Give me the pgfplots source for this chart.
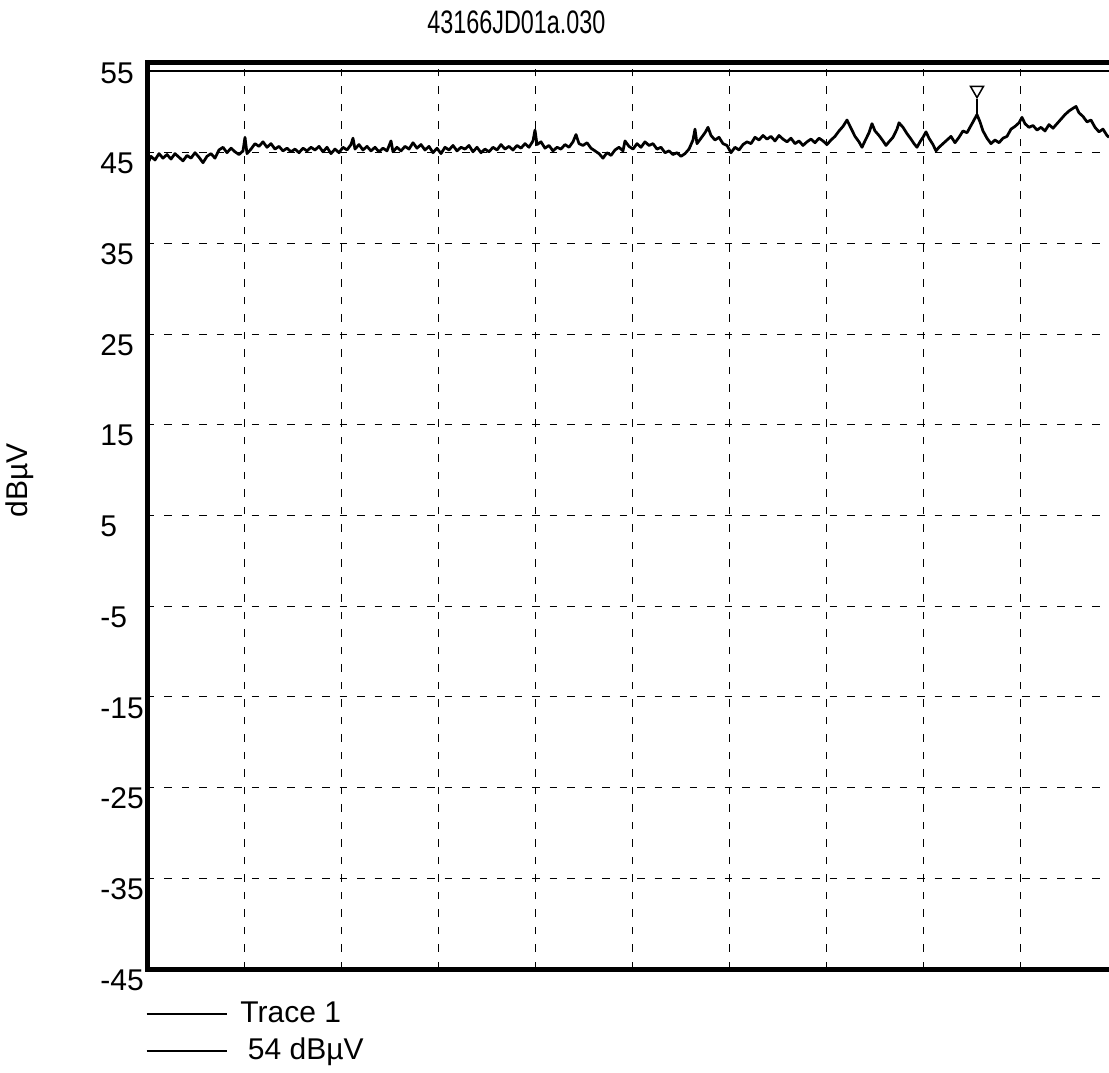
\documentclass[border=0pt]{standalone}
\usepackage{fontspec}
\setmainfont{Liberation Sans}
\usepackage{graphicx}
\usepackage{pgfplots}
\pgfplotsset{compat=1.18}

\begin{document}
\begin{tikzpicture}
\fill[white] (-58.8pt,-41.2pt) rectangle (384.8pt,387.6pt);
\begin{axis}[
  name=ax,
  at={(0pt,0pt)}, anchor=south west,
  scale only axis, width=384.8pt, height=362.8pt,
  xmin=147, xmax=1109, ymin=-45, ymax=55,
  axis line style={draw=none},
  xtick={245,342,439,536,633,730,826,923,1020},
  xticklabels={},
  ytick={-45,-35,-25,-15,-5,5,15,25,35,45,55},
  yticklabels={-45,-35,-25,-15,-5,5,15,25,35,45,55},
  major tick length=0pt,
  grid=major,
  major grid style={black, line width=0.4pt, dash pattern=on 3pt off 4pt},
  yticklabel style={anchor=west, inner sep=0pt, xshift=-18.8pt, yshift=-4.4pt, font=\fontsize{12}{14}\selectfont},
  title={\scalebox{0.72}[1]{43166JD01a.030}},
  title style={at={(axis description cs:0.384,1.027)}, anchor=center, font=\fontsize{13}{15}\selectfont},
  ylabel={dBµV},
  ylabel style={at={(axis description cs:-0.132,0.539)}, anchor=center, font=\fontsize{12}{14}\selectfont},
  legend style={draw=none, fill=none, inner sep=0pt, at={(axis description cs:-0.002,-0.033)}, anchor=north west, font=\fontsize{12}{14}\selectfont, row sep=2.6pt, nodes={inner sep=1pt}},
  legend cell align=left,
  legend image code/.code={\draw[black, line width=0.8pt] (0pt,0pt) -- (32pt,0pt); \path (36pt,0pt);},
]
\addplot[black, line width=1.1pt, line join=round] coordinates {
(147,43.6) (151,44.6) (155,44.2) (159,44.9) (163,44.4) (167,44.8) (171,44.3) (175,44.9) (179,44.5) (183,44.1)
(187,44.7) (191,44.4) (195,45.0) (199,44.5) (203,43.9) (207,44.6) (211,44.9) (215,44.4) (219,45.3) (223,45.6)
(227,45.0) (231,45.5) (235,45.1) (239,44.8) (243,45.2) (245,46.7) (247,44.9) (251,45.4) (255,46.0) (259,45.7)
(263,46.2) (267,45.6) (271,46.0) (275,45.4) (279,45.7) (283,45.2) (287,45.5) (291,45.1) (295,45.4) (299,45.0)
(303,45.5) (307,45.2) (311,45.6) (315,45.3) (319,45.7) (323,45.1) (327,45.6) (331,44.9) (335,45.4) (339,45.0)
(343,45.6) (347,45.3) (351,45.9) (353,46.6) (355,45.4) (359,45.9) (363,45.3) (367,45.7) (371,45.2) (375,45.6)
(379,45.1) (383,45.5) (387,45.2) (391,46.3) (393,45.1) (397,45.6) (401,45.2) (405,45.7) (409,45.4) (413,46.1)
(417,45.5) (421,45.9) (425,45.3) (429,45.7) (433,45.0) (437,45.5) (441,44.9) (445,45.6) (449,45.3) (453,45.8)
(457,45.2) (461,45.6) (465,45.4) (469,45.8) (473,45.1) (477,45.6) (481,45.0) (485,45.4) (489,45.1) (493,45.6)
(497,45.3) (501,45.9) (505,45.4) (509,45.7) (513,45.3) (517,45.8) (521,45.5) (525,46.0) (529,45.6) (533,46.3)
(535,47.5) (537,45.9) (541,46.2) (545,45.5) (549,45.8) (553,45.2) (557,45.6) (561,45.4) (565,45.9) (569,45.6)
(573,46.2) (576,47.0) (579,46.0) (583,45.8) (587,46.1) (591,45.5) (595,45.2) (599,44.9) (603,44.4) (607,45.0)
(611,44.7) (615,45.3) (619,45.6) (623,45.2) (625,46.3) (629,45.7) (633,45.4) (637,46.0) (641,45.6) (645,46.2)
(649,45.8) (653,46.0) (657,45.4) (661,45.6) (665,45.0) (669,45.2) (673,44.8) (677,45.0) (681,44.6) (685,44.9)
(689,45.4) (693,46.4) (695,47.6) (697,46.0) (701,46.6) (705,47.2) (708,47.8) (711,46.9) (715,46.4) (719,46.7)
(723,46.0) (727,45.8) (731,45.0) (735,45.6) (739,45.3) (743,45.9) (747,46.2) (751,46.0) (755,46.7) (759,46.4)
(763,46.9) (767,46.5) (771,46.8) (775,46.3) (779,46.9) (783,46.5) (787,46.2) (791,46.6) (795,46.0) (799,46.3)
(803,45.8) (807,46.2) (811,46.5) (815,46.1) (819,46.6) (823,46.3) (827,45.9) (831,46.4) (835,46.8) (839,47.4)
(843,47.9) (847,48.6) (851,47.7) (855,46.8) (859,46.2) (862,45.6) (865,46.3) (869,47.2) (872,48.2) (875,47.4)
(879,46.9) (883,46.3) (886,45.8) (889,46.2) (893,46.7) (897,47.6) (899,48.3) (903,47.8) (907,47.1) (911,46.5)
(914,46.0) (917,45.6) (920,46.2) (923,46.7) (926,47.3) (929,46.6) (933,45.9) (936,45.2) (939,45.6) (943,46.0)
(947,46.4) (951,46.8) (955,46.1) (959,46.7) (963,47.4) (967,47.2) (971,48.0) (974,48.6) (977,49.2) (980,48.4)
(983,47.4) (987,46.6) (991,46.0) (995,46.4) (999,46.1) (1003,46.6) (1007,46.8) (1011,47.6) (1015,47.9) (1019,48.3)
(1022,48.9) (1025,48.2) (1029,47.8) (1033,48.0) (1037,47.5) (1041,47.8) (1045,47.4) (1049,48.1) (1053,47.7) (1057,48.2)
(1061,48.7) (1065,49.2) (1069,49.6) (1073,49.9) (1076,50.1) (1079,49.4) (1083,49.0) (1087,48.4) (1091,48.6) (1095,47.8)
(1099,47.3) (1103,47.6) (1107,46.9) (1109,46.7)
};
\addlegendentry{Trace 1}
\addplot[black, line width=0.6pt] coordinates {(147,54) (1109,54)};
\addlegendentry{\hspace{3pt}54 dBµV}
\addplot[black, line width=0.5pt, forget plot] coordinates {(977,49.2) (977,50.9)};
\addplot[black, only marks, mark=triangle, mark size=3pt, mark options={rotate=180, line width=0.6pt}, forget plot] coordinates {(977,51.9)};
\end{axis}
\draw[line width=2pt] ([xshift=3pt]ax.south east) -- (ax.south west) -- (ax.north west) -- ([xshift=3pt]ax.north east);
\pgfresetboundingbox
\useasboundingbox (-58.8pt,-41.2pt) rectangle (384.8pt,387.6pt);
\end{tikzpicture}
\end{document}
